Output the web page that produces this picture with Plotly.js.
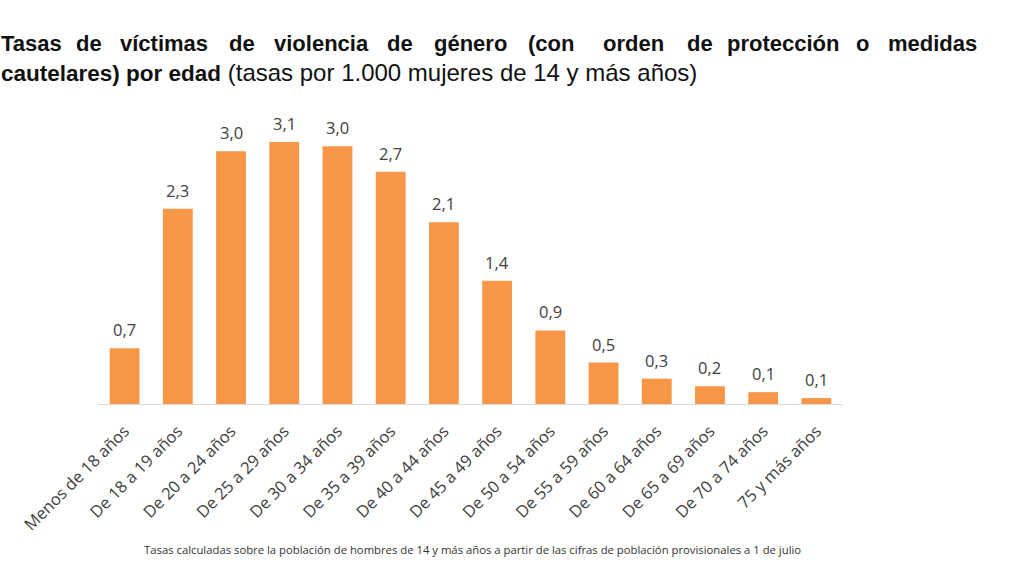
<!DOCTYPE html>
<html>
<head>
<meta charset="utf-8">
<script src="https://cdn.plot.ly/plotly-3.0.1.min.js"></script>
<style>html,body{margin:0;padding:0;background:#fff;}#chart{width:1024px;height:576px;}</style>
</head>
<body>
<div id="chart"></div>
<script>
// ---- data ----
const categories = ["Menos de 18 años","De 18 a 19 años","De 20 a 24 años","De 25 a 29 años","De 30 a 34 años","De 35 a 39 años","De 40 a 44 años","De 45 a 49 años","De 50 a 54 años","De 55 a 59 años","De 60 a 64 años","De 65 a 69 años","De 70 a 74 años","75 y más años"];
const rates = [0.66, 2.31, 2.99, 3.10, 3.05, 2.75, 2.15, 1.46, 0.87, 0.49, 0.30, 0.21, 0.14, 0.07];
const rateLabels = ["0,7","2,3","3,0","3,1","3,0","2,7","2,1","1,4","0,9","0,5","0,3","0,2","0,1","0,1"];
const titleLine1Words = ["Tasas","de","víctimas","de","violencia","de","género","(con","orden","de","protección","o","medidas"];
const titleLine2Bold = "cautelares) por edad";
const titleLine2Rest = "(tasas por 1.000 mujeres de 14 y más años)";
const footnote = "Tasas calculadas sobre la población de hombres de 14 y más años a partir de las cifras de población provisionales a 1 de julio";

// ---- layout helpers (pixel -> paper) ----
const W = 1024, H = 576, L = 98, R = 181, T = 110, B = 172;
const PW = W - L - R, PH = H - T - B;
const xp = px => (px - L) / PW;
const yp = py => (H - B - py) / PH;

// centre of each justified word of the first title line (pixels)
const wordCenter = [31, 89, 164, 241.5, 321, 399.5, 470, 551, 633, 699.5, 783, 862, 932];

const annotations = [];
titleLine1Words.forEach((w, i) => {
  annotations.push({
    xref: 'paper', yref: 'paper', x: xp(wordCenter[i]), y: yp(43),
    xanchor: 'center', yanchor: 'middle', showarrow: false,
    text: '<b>' + w + '</b>',
    font: {family: 'Liberation Sans, Arial, sans-serif', size: 22, color: '#111'}
  });
});
annotations.push({
  xref: 'paper', yref: 'paper', x: xp(-1), y: yp(72),
  xanchor: 'left', yanchor: 'middle', showarrow: false,
  text: '<b><span style="font-size:22.5px">' + titleLine2Bold + '</span></b> ' + titleLine2Rest,
  font: {family: 'Liberation Sans, Arial, sans-serif', size: 24, color: '#111'}
});
annotations.push({
  xref: 'paper', yref: 'paper', x: xp(472), y: yp(549),
  xanchor: 'center', yanchor: 'middle', showarrow: false,
  text: footnote,
  font: {family: 'Open Sans, sans-serif', size: 11.3, color: '#333'}
});
categories.forEach((c, i) => {
  annotations.push({
    x: c, y: rates[i], xref: 'x', yref: 'y',
    text: rateLabels[i], showarrow: false, yanchor: 'bottom', yshift: 5,
    font: {family: 'Open Sans, sans-serif', size: 16.5, color: '#404040'}
  });
});

const data = [{
  type: 'bar', x: categories, y: rates,
  marker: {color: '#F79646'},
  hoverinfo: 'none'
}];

const layout = {
  width: W, height: H,
  margin: {l: L, r: R, t: T, b: B},
  paper_bgcolor: '#fff', plot_bgcolor: '#fff',
  bargap: 0.44,
  showlegend: false,
  xaxis: {
    type: 'category', tickangle: -45,
    showline: true, linecolor: '#d9d9d9', linewidth: 1,
    showgrid: false, ticks: '', zeroline: false,
    ticklabelstandoff: 10,
    tickfont: {family: 'Open Sans, sans-serif', size: 16.5, color: '#404040'},
    automargin: false
  },
  yaxis: {
    range: [0, PH / 84.5], visible: false, showgrid: false, zeroline: false, fixedrange: true
  },
  annotations: annotations
};

Plotly.newPlot('chart', data, layout, {staticPlot: true, displayModeBar: false});
</script>
</body>
</html>
